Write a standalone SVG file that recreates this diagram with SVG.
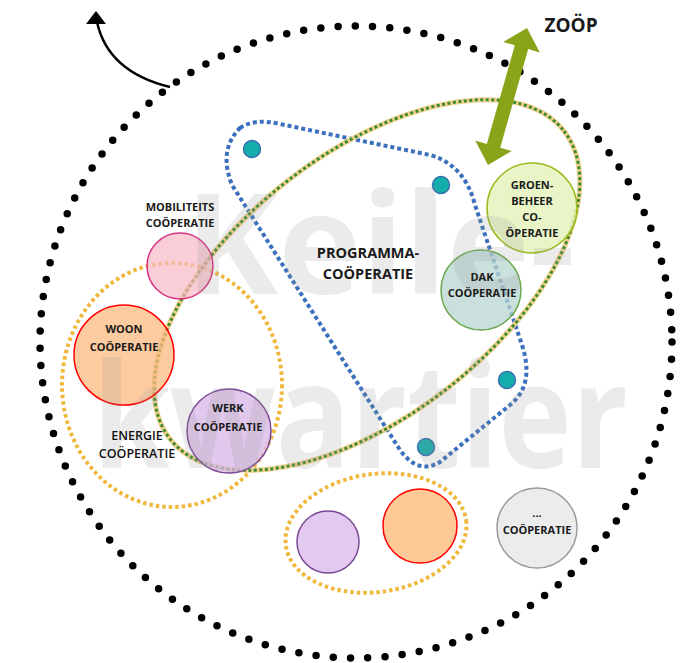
<svg xmlns="http://www.w3.org/2000/svg" width="687" height="663" viewBox="0 0 687 663">
<style>
.lbl{font-family:"Open Sans","Liberation Sans",sans-serif;font-weight:700;font-size:11px;fill:#1a1a1a;text-anchor:middle}
.yel{fill:none;stroke:#f0b93e;stroke-width:4;stroke-dasharray:3.5 3}
.blu{fill:none;stroke:#3a70bd;stroke-width:4;stroke-dasharray:4 3}
.dot{fill:#13adab;stroke:#3a6fb0;stroke-width:1.5}
.wm{font-family:"Open Sans","Liberation Sans",sans-serif;font-weight:700;fill:#999;fill-opacity:0.2}
</style>
<rect width="687" height="663" fill="#fff"/>
<g id="boundary">
<circle cx="356" cy="342" r="316" fill="none" stroke="#000" stroke-width="7.5" stroke-linecap="round" stroke-dasharray="0 17.3"/>
</g>
<g id="energie-group">
<ellipse class="yel" cx="172" cy="385" rx="110" ry="122"/>
</g>
<g id="bottom-group">
<ellipse class="yel" cx="376" cy="533" rx="91" ry="59" transform="rotate(-8 376 533)"/>
</g>
<g id="programma-boundary">
<path class="blu" d="M240,128 Q255,118 280,124 L430,155 Q465,165 475,205 L522,345 Q535,385 510,405 L440,462 Q418,475 400,450 L232,185 Q218,150 240,128 Z"/>
</g>
<g id="zoop-ellipse">
<ellipse cx="367" cy="285" rx="250" ry="131" transform="rotate(-38 367 285)" fill="none" stroke="#f3d28e" stroke-width="5"/>
<ellipse cx="367" cy="285" rx="250" ry="131" transform="rotate(-38 367 285)" fill="none" stroke="#3d8a35" stroke-width="3" stroke-dasharray="3 2.5"/>
</g>
<g id="mobiliteits"><circle cx="180" cy="266" r="33" fill="#f7b9c6" fill-opacity="0.7" stroke="#d63384" stroke-width="1.5"/></g>
<g id="woon"><circle cx="124" cy="355" r="50" fill="#fcb980" fill-opacity="0.75" stroke="#ff0000" stroke-width="1.5"/></g>
<g id="werk"><circle cx="229" cy="431" r="42" fill="#d7b6e6" fill-opacity="0.75" stroke="#7a4895" stroke-width="1.5"/></g>
<g id="dak"><circle cx="481" cy="290" r="40" fill="#b8d6d0" fill-opacity="0.75" stroke="#6aa84f" stroke-width="1.5"/></g>
<g id="groenbeheer"><circle cx="532" cy="208" r="45" fill="#e3f3b8" fill-opacity="0.8" stroke="#9bbb1e" stroke-width="1.5"/></g>
<g id="bottom-purple"><circle cx="328" cy="542" r="31" fill="#e3c9ef" stroke="#7a4895" stroke-width="1.5"/></g>
<g id="bottom-orange"><circle cx="420" cy="526" r="37" fill="#ffc997" stroke="#ff0000" stroke-width="1.5"/></g>
<g id="other"><circle cx="537" cy="528" r="40" fill="#ececec" stroke="#9a9a9a" stroke-width="1.5"/></g>
<g id="members">
<circle class="dot" cx="252" cy="149" r="8.5"/>
<circle class="dot" cx="441" cy="185" r="8.5"/>
<circle class="dot" cx="507" cy="380" r="8.5"/>
<circle class="dot" cx="426" cy="447" r="8.5"/>
</g>
<g id="watermark">
<text class="wm" x="185" y="294" font-size="140" textLength="390" lengthAdjust="spacingAndGlyphs">Keile-</text>
<text class="wm" x="93" y="468" font-size="145" textLength="535" lengthAdjust="spacingAndGlyphs">kwartier</text>
</g>
<g id="connectors">
<path d="M170,87 Q108,72 97,22" fill="none" stroke="#000" stroke-width="2.5"/>
<polygon points="96,11 86,24 106,24" fill="#000"/>
<polygon points="527,28 539.8,52.4 528.2,49.1 500.2,147.7 511.8,151 488,165 475.2,140.6 486.8,143.9 514.8,45.3 503.2,42" fill="#8aa41a"/>
</g>
<g id="labels">
<text class="lbl" x="180" y="211">MOBILITEITS</text>
<text class="lbl" x="180" y="227">COÖPERATIE</text>
<text class="lbl" x="124" y="333">WOON</text>
<text class="lbl" x="124" y="351">COÖPERATIE</text>
<text class="lbl" x="228" y="412">WERK</text>
<text class="lbl" x="228" y="431">COÖPERATIE</text>
<text class="lbl" x="137" y="440" style="font-weight:600;font-size:12.5px;fill:#111">ENERGIE</text>
<text class="lbl" x="137" y="458" style="font-weight:600;font-size:12.5px;fill:#111">COÖPERATIE</text>
<text class="lbl" x="368" y="258" style="font-size:14.5px">PROGRAMMA-</text>
<text class="lbl" x="368" y="279" style="font-size:14.5px">COÖPERATIE</text>
<text class="lbl" x="482" y="281">DAK</text>
<text class="lbl" x="482" y="297">COÖPERATIE</text>
<text class="lbl" x="532" y="189">GROEN-</text>
<text class="lbl" x="532" y="205">BEHEER</text>
<text class="lbl" x="532" y="221">CO-</text>
<text class="lbl" x="532" y="237">ÖPERATIE</text>
<text class="lbl" x="537" y="517">...</text>
<text class="lbl" x="537" y="534">COÖPERATIE</text>
<text class="lbl" x="571" y="32" style="font-size:19px">ZOÖP</text>
</g>
</svg>
